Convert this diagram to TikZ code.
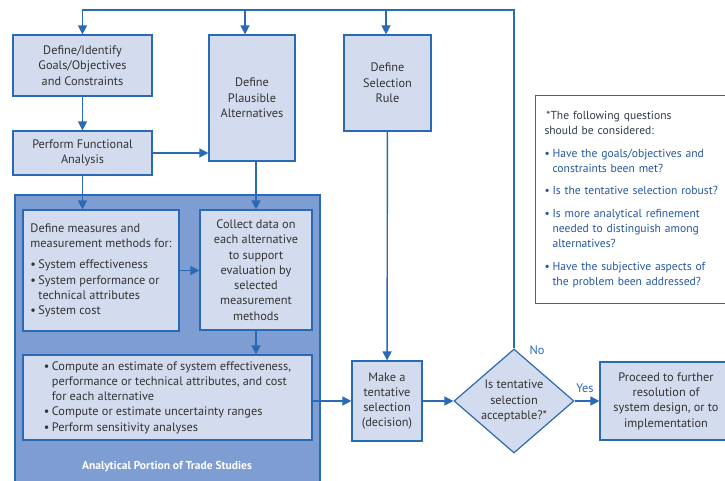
\documentclass[tikz,border=0pt]{standalone}
\usepackage{fontspec}
\setmainfont{PT Sans}
\usetikzlibrary{arrows.meta,shapes.geometric}

\definecolor{lineblue}{HTML}{2A69B3}
\definecolor{boxfill}{HTML}{D3DCEE}
\definecolor{tradefill}{HTML}{7E9DD3}
\definecolor{textgray}{HTML}{333333}
\definecolor{noteblue}{HTML}{2457A0}

\newcommand{\bul}{\makebox[8pt][l]{\textbullet}}
\newcommand{\ind}{\hspace*{8pt}}

\begin{document}
\begin{tikzpicture}[x=1pt,y=-1pt,
  font=\fontsize{12.3}{15.3}\selectfont,
  box/.style={rectangle,draw=lineblue,fill=boxfill,line width=1.2pt,
    inner sep=0pt,text=textgray,align=center},
  arr/.style={-{Triangle[length=9pt,width=9pt]},draw=lineblue,line width=1.4pt}]

  \useasboundingbox (0,0) rectangle (725,481);

  % shaded trade study area
  \draw[lineblue,fill=tradefill,line width=1.2pt] (15,195) rectangle (320,484);
  \node[text=white,font=\fontsize{11.5}{12}\selectfont\bfseries] (trade) at (167,467)
    {Analytical Portion of Trade Studies};

  \begin{scope}[every node/.style={box}]
    \node[minimum width=139pt,minimum height=61pt] (goals) at (82.5,65.5)
      {Define/Identify\\Goals/Objectives\\and Constraints};
    \node[minimum width=139pt,minimum height=44pt] (func) at (82.5,153)
      {Perform Functional\\Analysis};
    \node[minimum width=86pt,minimum height=126pt] (plaus) at (252,98)
      {Define\\Plausible\\Alternatives};
    \node[minimum width=87pt,minimum height=96pt] (rule) at (387.5,83)
      {Define\\Selection\\Rule};
    \node[minimum width=156pt,minimum height=121pt,align=left] (meas) at (101,270.5)
      {Define measures and\\measurement methods for:\\[6pt]
       \bul System effectiveness\\
       \bul System performance or\\
       \ind technical attributes\\
       \bul System cost};
    \node[minimum width=112pt,minimum height=120pt] (collect) at (256,270)
      {Collect data on\\each alternative\\to support\\evaluation by\\selected\\measurement\\methods};
    \node[minimum width=289pt,minimum height=85pt,align=left] (comp) at (167.5,397.5)
      {\bul Compute an estimate of system effectiveness,\\
       \ind performance or technical attributes, and cost\\
       \ind for each alternative\\
       \bul Compute or estimate uncertainty ranges\\
       \bul Perform sensitivity analyses};
    \node[minimum width=70pt,minimum height=80pt] (make) at (387,401)
      {Make a\\tentative\\selection\\(decision)};
    \node[diamond,aspect=1.15,minimum width=120pt,minimum height=104pt] (dec) at (514,401)
      {Is tentative\\selection\\acceptable?*};
    \node[minimum width=132pt,minimum height=78pt] (proceed) at (666,401)
      {Proceed to further\\resolution of\\system design, or to\\implementation};
  \end{scope}

  % question list
  \node[draw=lineblue,line width=1pt,fill=white,anchor=north west,inner xsep=9pt,
    minimum width=200pt,minimum height=208pt,text width=190pt,align=left,
    text=noteblue,font=\fontsize{11.6}{15.3}\selectfont] (notes) at (535,95)
    {{\color{textgray!80!noteblue}\,*The following questions\\should be considered:}\\[7pt]
     \bul Have the goals/objectives and\\
     \ind constraints been met?\\[7pt]
     \bul Is the tentative selection robust?\\[7pt]
     \bul Is more analytical refinement\\
     \ind needed to distinguish among\\
     \ind alternatives?\\[7pt]
     \bul Have the subjective aspects of\\
     \ind the problem been addressed?};

  \coordinate (topR) at (514,10);
  \coordinate (topP) at (245,10);
  \coordinate (topS) at (386,10);

  \begin{scope}[every edge/.style={arr}]
    \path (goals) edge (func);
    \path (func.east) edge (plaus.west |- func.east);
    \path (func.south) edge (func.south |- meas.north);
    \path (collect.north |- plaus.south) edge (collect.north);
    \path (meas.east) edge (collect.west |- meas.east);
    \path (collect.south) edge (collect.south |- comp.north);
    \path (comp.east |- make.west) edge (make.west);
    \path (rule) edge (make);
    \path (make) edge (dec);
    \path (dec) edge (proceed);
    \path (topP) edge (topP |- plaus.north);
    \path (topS) edge (topS |- rule.north);
  \end{scope}

  % the No loop back to the top
  \draw[arr] (dec.north) -- (topR) -| (goals.north);

  \node[text=lineblue] (no) at (537,350) {No};
  \node[text=lineblue] (yes) at (585,388) {Yes};

\end{tikzpicture}
\end{document}
